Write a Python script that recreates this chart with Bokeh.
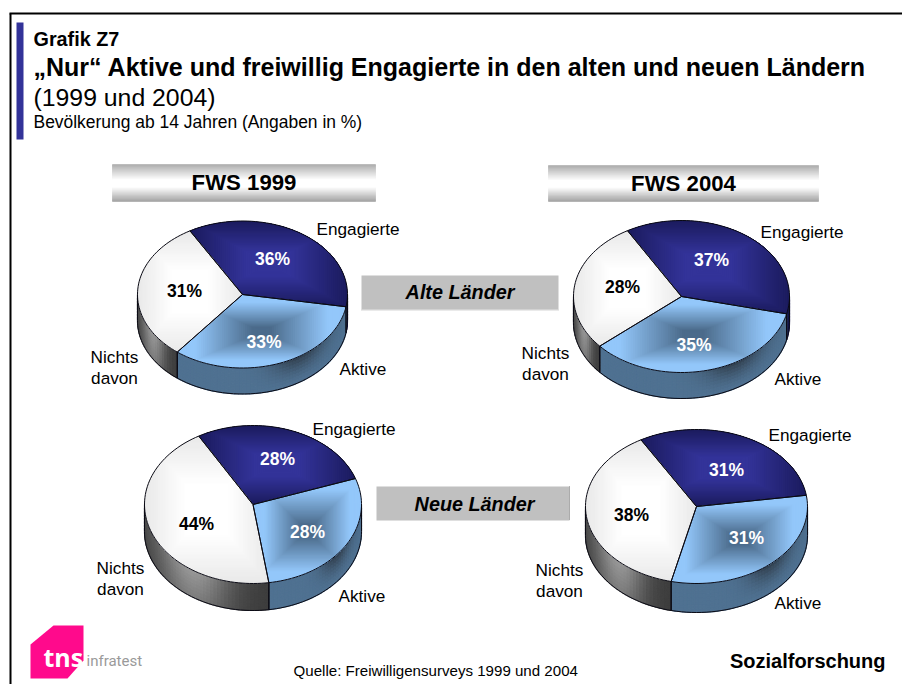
import numpy as np
from bokeh.embed import file_html
from bokeh.models import Range1d
from bokeh.plotting import figure
from bokeh.resources import INLINE
from bokeh.core.properties import value

# ---- data -------------------------------------------------------------
categories = ["Engagierte", "Aktive", "Nichts davon"]
alte_1999 = [36, 33, 31]
alte_2004 = [37, 35, 28]
neue_1999 = [28, 28, 44]
neue_2004 = [31, 31, 38]

title_kicker = "Grafik Z7"
title_main = "„Nur“ Aktive und freiwillig Engagierte in den alten und neuen Ländern"
title_years = "(1999 und 2004)"
title_base = "Bevölkerung ab 14 Jahren (Angaben in %)"
source_text = "Quelle: Freiwilligensurveys 1999 und 2004"

# ---- layout: pie geometry (cx, cy, rx, ry, depth) and label anchors -----
pies = [
    dict(vals=alte_1999, geo=(242, 294, 105, 73.5, 26),
         pct=[(272, 259), (263.5, 342), (184, 291)],
         eng=(316, 235), akt=(339, 375), nic=(114, 363, 384)),
    dict(vals=alte_2004, geo=(681, 296, 108, 76, 26),
         pct=[(711, 260), (693.5, 345), (622, 287)],
         eng=(760, 238), akt=(774, 385), nic=(545, 359, 380)),
    dict(vals=neue_1999, geo=(252.5, 504, 108.5, 79, 27),
         pct=[(277, 459), (307, 532), (196, 524)],
         eng=(312, 435), akt=(338, 602), nic=(120, 574, 595)),
    dict(vals=neue_2004, geo=(696, 506, 111, 77, 29),
         pct=[(726, 470), (746, 538), (631, 515)],
         eng=(768, 441), akt=(774, 609), nic=(559, 576, 597)),
]
START_ANGLE = 120.0

# ---- colours: edge, centre, gradient start, gradient plateau -------------
FACE = [("#1B1B5E", "#333399", 1.0, 0.3),
        ("#93C7FA", "#4B6B8B", 0.80, 0.12),
        ("#E9E9E9", "#FFFFFF", 1.0, 0.35)]


def rgb(h):
    return np.array([int(h[i:i + 2], 16) for i in (1, 3, 5)], dtype=float)


def mix(a, b, t):
    c = rgb(a) * (1 - t) + rgb(b) * t
    return "#%02x%02x%02x" % tuple(int(round(v)) for v in c)


def clip_convex(subject, poly):
    area = 0.0
    for (x0, y0), (x1, y1) in zip(poly, poly[1:] + poly[:1]):
        area += x0 * y1 - x1 * y0
    sign = 1 if area > 0 else -1
    out = subject
    for (ax, ay), (bx, by) in zip(poly, poly[1:] + poly[:1]):
        if abs(ax - bx) + abs(ay - by) < 1e-9:
            continue
        side = lambda p: sign * ((bx - ax) * (p[1] - ay) - (by - ay) * (p[0] - ax))
        res = []
        for i in range(len(out)):
            q0, q1 = out[i], out[(i + 1) % len(out)]
            s0, s1 = side(q0), side(q1)
            if s0 >= 0:
                res.append(q0)
            if (s0 >= 0) != (s1 >= 0):
                t = s0 / (s0 - s1)
                res.append((q0[0] + t * (q1[0] - q0[0]), q0[1] + t * (q1[1] - q0[1])))
        out = res
        if not out:
            break
    return out


W, H = 902, 684
p = figure(width=W, height=H, x_range=Range1d(0, W), y_range=Range1d(H, 0),
           output_backend="svg", toolbar_location=None, min_border=0,
           background_fill_color="white", border_fill_color="white", outline_line_color=None)
p.axis.visible = False
p.grid.visible = False

BASE_SHIFT = 0.33


def txt(x, y, s, size, color="black", bold=False, italic=False, align="left", font="Liberation Sans"):
    style = "bold italic" if bold and italic else "bold" if bold else "italic" if italic else "normal"
    p.text([x], [y - 1 - BASE_SHIFT * size], text=[s], text_font=value(font), text_font_size=f"{size}px",
           text_font_style=style, text_color=color, text_align=align, text_baseline="alphabetic")


# frame and title accent
p.line([10, 10], [13, 690], line_color="black", line_width=2)
p.line([9, 905], [13, 13], line_color="black", line_width=2)
p.quad(left=[16], right=[23], top=[22], bottom=[139], fill_color="#333399", line_color=None)

txt(33, 46.5, title_kicker, 19.8, bold=True)
txt(33, 76, title_main, 25.03, bold=True)
txt(33, 106.5, title_years, 24.8)
txt(33, 128, title_base, 17.45)

# header bars with a vertical sheen
for (x0, x1, y0, y1, label) in [(112, 375, 164, 201, "FWS 1999"), (548, 818, 165, 201, "FWS 2004")]:
    n = 37
    ys = np.linspace(y0, y1, n + 1)
    cols = []
    for i in range(n):
        t = (i + .5) / n
        if t < .42:
            cols.append(mix("#A8A8A8", "#FFFFFF", t / .42))
        elif t < .62:
            cols.append("#FFFFFF")
        else:
            cols.append(mix("#FFFFFF", "#A0A0A0", (t - .62) / .38))
    p.quad(left=x0, right=x1, top=ys[:-1], bottom=ys[1:], fill_color=cols, line_color=cols, line_width=.6)
    txt((x0 + x1) / 2, (y0 + y1) / 2 + 8, label, 22.2, bold=True, align="center")

# grey region captions
p.quad(left=[361], right=[558], top=[275], bottom=[309], fill_color="#C0C0C0", line_color=None)
p.line([361, 558], [309.5, 309.5], line_color="#AAAAAA", line_width=1, line_dash="1 1")
txt(459.5, 299, "Alte Länder", 19.8, bold=True, italic=True, align="center")
p.quad(left=[376], right=[569], top=[486], bottom=[520], fill_color="#C0C0C0", line_color=None)
p.line([569, 569], [486, 520], line_color="#777777", line_width=1, line_dash="1 1")
txt(474, 511, "Neue Länder", 19.8, bold=True, italic=True, align="center")

# pies
LAYERS = 8
for pie in pies:
    cx, cy, rx, ry, dep = pie["geo"]
    vals = pie["vals"]
    ang = START_ANGLE
    arcs = []
    for v in vals:
        a1 = ang - v * 3.6
        arcs.append((ang, a1))
        ang = a1

    ex = lambda a: cx + rx * np.cos(np.radians(a))
    ey = lambda a: cy - ry * np.sin(np.radians(a))

    # side wall
    sx, sy, sc = [], [], []
    outl_x, outl_y = [], []
    for k, (a0, a1) in enumerate(arcs):
        lo, hi = a1, a0
        vis = []
        for shift in (0, -360, 360):
            l = max(lo + shift, -180)
            h = min(hi + shift, 0)
            if h > l:
                vis.append((h, l))
        for h, l in vis:
            m = max(2, int((h - l) / 2))
            edges = np.linspace(h, l, m + 1)
            xmin, xmax = ex(h), ex(l)
            xa, xb = min(xmin, xmax), max(xmin, xmax)
            for e0, e1 in zip(edges[:-1], edges[1:]):
                tx = ((ex((e0 + e1) / 2)) - xa) / max(xb - xa, 1)
                for layer in range(LAYERS):
                    d0, d1 = dep * layer / LAYERS, dep * (layer + 1) / LAYERS
                    v = (layer + .5) / LAYERS
                    if k == 0:
                        col = "#16164A"
                    elif k == 1:
                        bump = np.exp(-((tx - .72) / .16) ** 2)
                        col = mix("#4F7191", "#2B3540", bump * (.85 * (1 - v) ** 1.5))
                    else:
                        lt = np.exp(-((tx - .38) / .3) ** 2)
                        col = mix("#3C3C3C", "#999999", lt * (1 - .3 * v))
                    sx.append([ex(e0), ex(e1), ex(e1), ex(e0)])
                    sy.append([ey(e0) + d0, ey(e1) + d0, ey(e1) + d1, ey(e0) + d1])
                    sc.append(col)
            th = np.linspace(h, l, 40)
            outl_x.append(list(ex(th)))
            outl_y.append(list(ey(th) + dep))
            for b in (h, l):
                if -179.9 < b < -0.1:
                    outl_x.append([ex(b), ex(b)])
                    outl_y.append([ey(b), ey(b) + dep])
    for b in (0.0, -180.0):
        outl_x.append([ex(b), ex(b)])
        outl_y.append([ey(b), ey(b) + dep])
    p.patches(xs=sx, ys=sy, fill_color=sc, line_color=sc, line_width=1.2)

    # top face: box-shaped gradient clipped to each slice
    fx, fy, fc = [], [], []
    ol_x, ol_y = [], []
    for k, (a0, a1) in enumerate(arcs):
        th = np.linspace(a0, a1, max(8, int((a0 - a1) / 2)))
        poly = [(cx, cy)] + [(float(ex(t)), float(ey(t))) for t in th]
        xs_ = [q[0] for q in poly]
        ys_ = [q[1] for q in poly]
        bx0, bx1, by0, by1 = min(xs_), max(xs_), min(ys_), max(ys_)
        mx, my = (bx0 + bx1) / 2, (by0 + by1) / 2
        edge, centre, reach, plateau = FACE[k]
        steps = 40
        for i in range(steps):
            s = 1.02 - i / steps
            hw, hh = (bx1 - bx0) / 2 * s, (by1 - by0) / 2 * s
            rect = [(mx - hw, my - hh), (mx + hw, my - hh), (mx + hw, my + hh), (mx - hw, my + hh)]
            cl = clip_convex(rect, poly)
            if len(cl) < 3:
                continue
            t = float(np.clip((reach - s) / (reach - plateau), 0, 1))
            fx.append([q[0] for q in cl])
            fy.append([q[1] for q in cl])
            fc.append(mix(edge, centre, t))
        ol_x.append(xs_ + [xs_[0]])
        ol_y.append(ys_ + [ys_[0]])
    p.patches(xs=fx, ys=fy, fill_color=fc, line_color=None)
    p.multi_line(xs=ol_x + outl_x, ys=ol_y + outl_y, line_color="#0A0A14", line_width=1)

    # labels
    for k, (x, y) in enumerate(pie["pct"]):
        txt(x, y + 6, f"{vals[k]}%", 17.5, color="white" if k < 2 else "black", bold=True, align="center")
    txt(pie["eng"][0], pie["eng"][1], categories[0], 17.2)
    txt(pie["akt"][0], pie["akt"][1], categories[1], 17.2)
    a, b = categories[2].split(" ")
    txt(pie["nic"][0], pie["nic"][1], a, 17.2, align="center")
    txt(pie["nic"][0], pie["nic"][2], b, 17.2, align="center")

# footer
logo_x = [30, 53, 83, 83, 67, 30]
logo_y = [644, 625, 625, 660, 678, 678]
p.patch(logo_x, logo_y, fill_color="#FF0A8C", line_color=None)
txt(43, 666, "tns", 25, color="white", bold=True, font="Open Sans")
txt(86, 666, "infratest", 15, color="#9A9A9A", font="Roboto")
txt(293, 676, source_text, 15.1)
txt(885, 668, "Sozialforschung", 20, bold=True, align="right")

open("out.html", "w").write(file_html(p, INLINE))
